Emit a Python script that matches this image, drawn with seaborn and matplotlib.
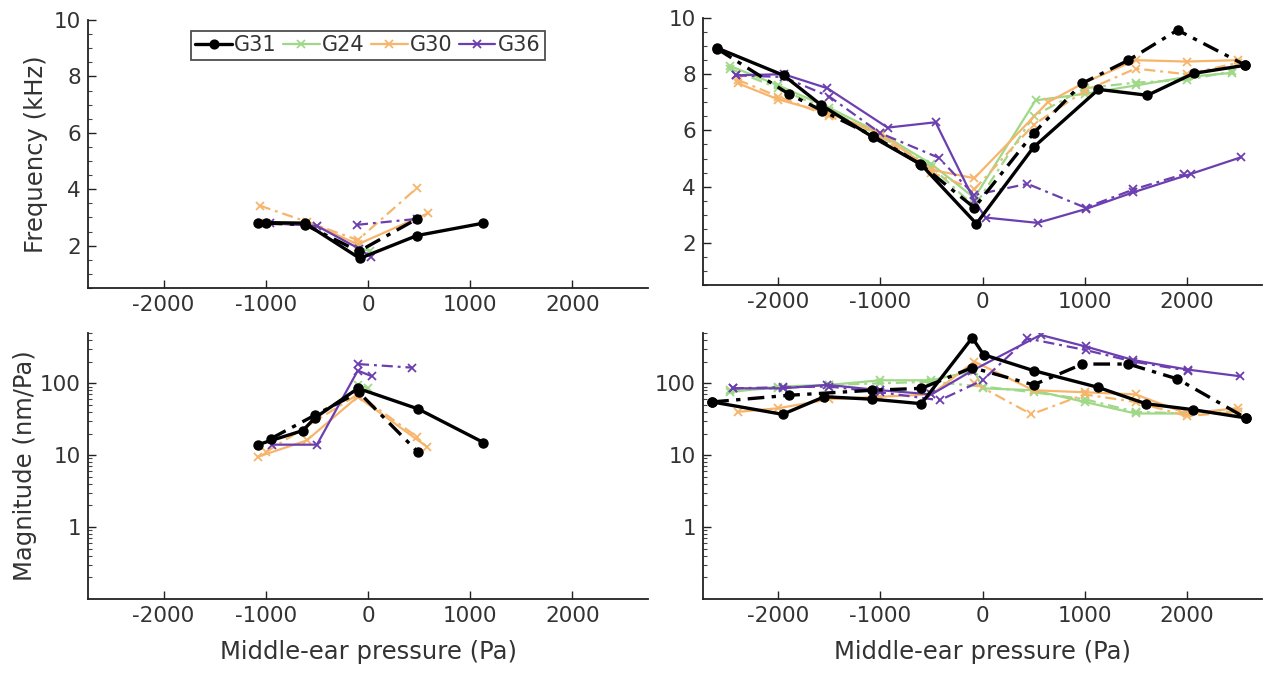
import numpy as np
import pandas as pd
import matplotlib
matplotlib.use("Agg")
import matplotlib.pyplot as plt
from matplotlib.ticker import FixedLocator, MultipleLocator, LogLocator, NullFormatter
from matplotlib.lines import Line2D
import seaborn as sns

# ---------------- data ----------------
groups = ["G31", "G24", "G30", "G36"]
colors = {"G31": "#000000", "G24": "#9fd887", "G30": "#f7b56c", "G36": "#6c3fb0"}
markers = {"G31": "o", "G24": "x", "G30": "x", "G36": "x"}

# Top-left: frequency (kHz), small-pressure range
tl_G31_solid_x = [-1078, -618, -80, 480, 1130]
tl_G31_solid_y = [2.82, 2.80, 1.55, 2.36, 2.80]
tl_G31_dash_x = [-1000, -620, -90, 480]
tl_G31_dash_y = [2.80, 2.75, 1.80, 2.95]
tl_G24_solid_x = [-100, 20]
tl_G24_solid_y = [1.95, 1.80]
tl_G30_solid_x = [-1000, -500, -100, 588]
tl_G30_solid_y = [2.80, 2.70, 2.05, 3.15]
tl_G30_dash_x = [-1059, -600, -100, 480]
tl_G30_dash_y = [3.42, 2.85, 2.20, 4.05]
tl_G36_solid_x = [-960, -500, -90, 30]
tl_G36_solid_y = [2.80, 2.70, 1.90, 1.60]
tl_G36_dash_x = [-108, 480]
tl_G36_dash_y = [2.74, 2.95]

# Top-right: frequency (kHz), full-pressure range
tr_G31_solid_x = [-2600, -1950, -1580, -1070, -600, -60, 500, 1137, 1617, 2069, 2578]
tr_G31_solid_y = [8.93, 7.96, 6.90, 5.75, 4.78, 2.68, 5.40, 7.46, 7.25, 8.03, 8.32]
tr_G31_dash_x = [-2600, -1900, -1570, -1070, -608, -80, 500, 980, 1431, 1912, 2578]
tr_G31_dash_y = [8.90, 7.30, 6.70, 5.80, 4.80, 3.25, 5.90, 7.68, 8.50, 9.57, 8.32]
tr_G24_solid_x = [-2480, -2000, -1500, -1000, -500, -80, 520, 1000, 1500, 2000, 2450]
tr_G24_solid_y = [8.30, 7.60, 6.80, 5.90, 4.80, 3.60, 7.07, 7.30, 7.60, 7.90, 8.05]
tr_G24_dash_x = [-2480, -2000, -1500, -1000, -500, -80, 500, 1000, 1500, 2000, 2450]
tr_G24_dash_y = [8.20, 7.50, 6.70, 5.80, 4.70, 3.30, 6.50, 7.50, 7.70, 7.80, 8.10]
tr_G30_solid_x = [-2400, -2000, -1500, -1000, -500, -80, 640, 1000, 1500, 2000, 2500]
tr_G30_solid_y = [7.68, 7.10, 6.60, 5.90, 4.60, 4.30, 7.00, 7.70, 8.50, 8.45, 8.50]
tr_G30_dash_x = [-2400, -2000, -1500, -1000, -500, -80, 500, 1000, 1500, 2000, 2500]
tr_G30_dash_y = [7.80, 7.20, 6.50, 5.80, 4.50, 3.90, 6.20, 7.40, 8.20, 8.00, 8.40]
tr_G36_solid_x = [-2420, -1950, -1520, -930, -460, -80, 30, 540, 1010, 1480, 2040, 2530]
tr_G36_solid_y = [7.96, 8.00, 7.50, 6.10, 6.29, 3.50, 2.90, 2.71, 3.20, 3.80, 4.45, 5.04]
tr_G36_dash_x = [-2420, -1950, -1500, -1000, -430, -80, 440, 1010, 1480, 1980]
tr_G36_dash_y = [7.96, 7.90, 7.20, 5.90, 5.03, 3.70, 4.10, 3.25, 3.90, 4.45]

# Bottom-left: magnitude (nm/Pa), small-pressure range
bl_G31_solid_x = [-1078, -637, -520, -98, 490, 1130]
bl_G31_solid_y = [14, 22, 33, 85, 44, 15]
bl_G31_dash_x = [-950, -520, -90, 490]
bl_G31_dash_y = [17, 36, 75, 11]
bl_G24_solid_x = [-100, 0]
bl_G24_solid_y = [95, 85]
bl_G30_solid_x = [-1078, -600, -100, 580]
bl_G30_solid_y = [9.5, 16, 65, 13]
bl_G30_dash_x = [-1000, -100, 480]
bl_G30_dash_y = [11, 70, 18]
bl_G36_solid_x = [-941, -500, -100, 39]
bl_G36_solid_y = [14, 14, 150, 125]
bl_G36_dash_x = [-98, 431]
bl_G36_dash_y = [185, 165]

# Bottom-right: magnitude (nm/Pa), full-pressure range
br_G31_solid_x = [-2650, -1960, -1550, -1080, -600, -100, 10, 500, 1130, 1600, 2060, 2580]
br_G31_solid_y = [55, 37, 65, 60, 52, 430, 250, 150, 88, 52, 43, 33]
br_G31_dash_x = [-2650, -1900, -1080, -600, -100, 500, 980, 1430, 1910, 2580]
br_G31_dash_y = [55, 68, 80, 85, 165, 95, 185, 185, 115, 33]
br_G24_solid_x = [-2480, -2000, -1500, -1000, -500, -80, 0, 500, 1000, 1500, 2000]
br_G24_solid_y = [75, 90, 95, 110, 110, 150, 85, 80, 55, 38, 38]
br_G24_dash_x = [-2480, -2000, -1500, -1000, -500, 0, 500, 1000, 1500, 2000, 2500]
br_G24_dash_y = [80, 85, 95, 100, 105, 90, 75, 60, 40, 38, 40]
br_G30_solid_x = [-2400, -2000, -1500, -1000, -500, -80, 500, 1000, 1500, 2000, 2500]
br_G30_solid_y = [40, 45, 60, 65, 70, 200, 80, 75, 70, 38, 45]
br_G30_dash_x = [-80, 480, 1000, 1500, 2000, 2500]
br_G30_dash_y = [100, 37, 70, 55, 35, 40]
br_G36_solid_x = [-2450, -1960, -1520, -1000, -500, -100, 569, 1010, 1480, 2010, 2529]
br_G36_solid_y = [85, 85, 95, 80, 70, 150, 470, 325, 210, 155, 125]
br_G36_dash_x = [-2450, -1960, -1500, -1000, -420, 0, 441, 1010, 1480, 2010]
br_G36_dash_y = [85, 88, 90, 75, 58, 110, 420, 290, 200, 150]

panels = {
    "tl": {
        "G31": [(tl_G31_solid_x, tl_G31_solid_y, "-"), (tl_G31_dash_x, tl_G31_dash_y, "--")],
        "G24": [(tl_G24_solid_x, tl_G24_solid_y, "-")],
        "G30": [(tl_G30_solid_x, tl_G30_solid_y, "-"), (tl_G30_dash_x, tl_G30_dash_y, "--")],
        "G36": [(tl_G36_solid_x, tl_G36_solid_y, "-"), (tl_G36_dash_x, tl_G36_dash_y, "--")],
    },
    "tr": {
        "G31": [(tr_G31_solid_x, tr_G31_solid_y, "-"), (tr_G31_dash_x, tr_G31_dash_y, "--")],
        "G24": [(tr_G24_solid_x, tr_G24_solid_y, "-"), (tr_G24_dash_x, tr_G24_dash_y, "--")],
        "G30": [(tr_G30_solid_x, tr_G30_solid_y, "-"), (tr_G30_dash_x, tr_G30_dash_y, "--")],
        "G36": [(tr_G36_solid_x, tr_G36_solid_y, "-"), (tr_G36_dash_x, tr_G36_dash_y, "--")],
    },
    "bl": {
        "G31": [(bl_G31_solid_x, bl_G31_solid_y, "-"), (bl_G31_dash_x, bl_G31_dash_y, "--")],
        "G24": [(bl_G24_solid_x, bl_G24_solid_y, "-")],
        "G30": [(bl_G30_solid_x, bl_G30_solid_y, "-"), (bl_G30_dash_x, bl_G30_dash_y, "--")],
        "G36": [(bl_G36_solid_x, bl_G36_solid_y, "-"), (bl_G36_dash_x, bl_G36_dash_y, "--")],
    },
    "br": {
        "G31": [(br_G31_solid_x, br_G31_solid_y, "-"), (br_G31_dash_x, br_G31_dash_y, "--")],
        "G24": [(br_G24_solid_x, br_G24_solid_y, "-"), (br_G24_dash_x, br_G24_dash_y, "--")],
        "G30": [(br_G30_solid_x, br_G30_solid_y, "-"), (br_G30_dash_x, br_G30_dash_y, "--")],
        "G36": [(br_G36_solid_x, br_G36_solid_y, "-"), (br_G36_dash_x, br_G36_dash_y, "--")],
    },
}

xticks = [-2000, -1000, 0, 1000, 2000]

# ---------------- style ----------------
sns.set_theme(style="white")
plt.rcParams["font.family"] = ["DejaVu Sans"]
TXT = "#333333"
FS = 15.5
LFS = 17.5

fig = plt.figure(figsize=(12.65, 6.75), dpi=100)
W, H = 1265, 675
def pos(l, t, r, b):
    return [l / W, 1 - b / H, (r - l) / W, (b - t) / H]

axes = {
    "tl": fig.add_axes(pos(88, 20, 648, 288)),
    "tr": fig.add_axes(pos(703, 18, 1262, 285)),
    "bl": fig.add_axes(pos(88, 333, 648, 599)),
    "br": fig.add_axes(pos(703, 333, 1262, 599)),
}

dash_style = (0, (5, 2.2, 1.3, 2.2))

for key, ax in axes.items():
    for g in ["G24", "G30", "G36", "G31"]:
        for (xs, ys, ls) in panels[key].get(g, []):
            df = pd.DataFrame({"x": xs, "y": ys})
            is_black = g == "G31"
            sns.lineplot(
                data=df, x="x", y="y", ax=ax, sort=False, estimator=None,
                color=colors[g], marker=markers[g],
                linewidth=2.4 if is_black else 1.6,
                markersize=6.5 if is_black else 5.5,
                markeredgewidth=1.0 if is_black else 1.3,
                markeredgecolor=colors[g],
                linestyle="-" if ls == "-" else dash_style,
                legend=False,
            )
    ax.set_xlim(-2740, 2740)
    ax.set_xticks(xticks)
    ax.set_xticklabels([str(t) for t in xticks])
    ax.set_xlabel("")
    ax.set_ylabel("")
    for s in ["top", "right"]:
        ax.spines[s].set_visible(False)
    for s in ["left", "bottom"]:
        ax.spines[s].set_color("#222222")
        ax.spines[s].set_linewidth(1.3)
    ax.tick_params(axis="both", which="major", direction="in", length=6, width=1.0,
                   colors="#222222", labelcolor=TXT, labelsize=FS, left=True, bottom=True,
                   pad=5)
    ax.tick_params(axis="y", which="minor", direction="in", length=3, width=0.8,
                   colors="#444444", left=True)
    ax.set_facecolor("white")

for key in ["tl", "tr"]:
    ax = axes[key]
    ax.set_ylim(0.5, 10)
    ax.set_yticks([2, 4, 6, 8, 10])
    ax.yaxis.set_minor_locator(MultipleLocator(0.5))

for key in ["bl", "br"]:
    ax = axes[key]
    ax.set_yscale("log")
    ax.set_ylim(0.1, 500)
    ax.yaxis.set_major_locator(FixedLocator([1, 10, 100]))
    ax.set_yticklabels(["1", "10", "100"])
    ax.yaxis.set_minor_locator(LogLocator(base=10, subs=np.arange(2, 10), numticks=20))
    ax.yaxis.set_minor_formatter(NullFormatter())
    ax.set_xlabel("Middle-ear pressure (Pa)", fontsize=LFS, color=TXT, labelpad=10)

axes["tl"].set_ylabel("Frequency (kHz)", fontsize=LFS, color=TXT, labelpad=4)
axes["bl"].set_ylabel("Magnitude (nm/Pa)", fontsize=LFS, color=TXT, labelpad=2)

# legend
handles = [
    Line2D([0], [0], color=colors[g], marker=markers[g],
           linewidth=2.4 if g == "G31" else 1.6, markersize=6 if g == "G31" else 5.5,
           markeredgewidth=1.3)
    for g in groups
]
leg = axes["tl"].legend(handles, groups, loc="upper center", bbox_to_anchor=(0.5, 0.975),
                        ncol=4, frameon=True, fancybox=False, fontsize=15,
                        handlelength=1.75, handletextpad=0.12, columnspacing=0.3,
                        borderpad=0.22, borderaxespad=0.2)
leg.get_frame().set_edgecolor("#222222")
leg.get_frame().set_linewidth(1.3)
for t in leg.get_texts():
    t.set_color(TXT)

fig.savefig("out.png", dpi=100)
